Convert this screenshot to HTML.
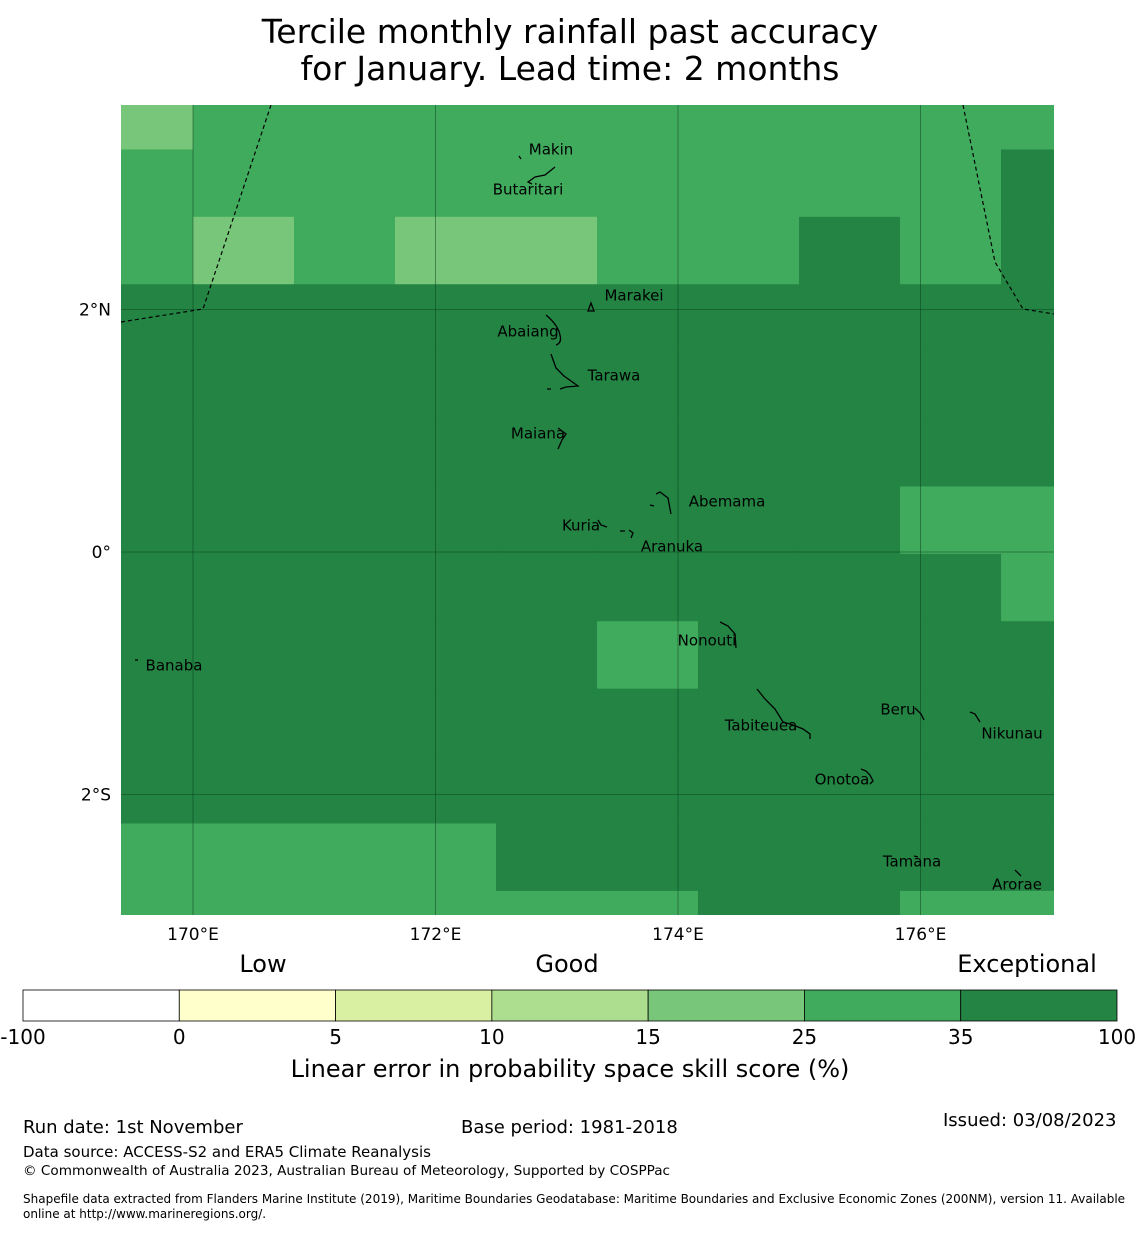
<!DOCTYPE html>
<html><head><meta charset="utf-8"><style>
body{margin:0;background:#fff;width:1140px;height:1230px;overflow:hidden;font-family:"Liberation Sans","DejaVu Sans",sans-serif}
</style></head><body>
<svg width="1140" height="1230" viewBox="0 0 1140 1230" font-family="DejaVu Sans, Liberation Sans, sans-serif">
<g font-size="33" text-anchor="middle">
<text x="570" y="43">Tercile monthly rainfall past accuracy</text>
<text x="570" y="80">for January. Lead time: 2 months</text>
</g>
<defs><clipPath id="mc"><rect x="121" y="105" width="933" height="810"/></clipPath></defs>
<g id="cells" clip-path="url(#mc)"></g>
<g id="grid" clip-path="url(#mc)"></g>
<g clip-path="url(#mc)" fill="none" stroke="#000" stroke-width="1.2" stroke-dasharray="4,3">
<polyline points="121,322 203,309 271,105"/>
<polyline points="963,105 995,262 1023,309 1054,314"/>
</g>
<g fill="none" stroke="#000" stroke-width="1.3">
<path d="M519,156 l2,3"/><path d="M555,167 l-10,8 l-10,2 l-7,5 l4,2"/>
<path d="M588,311 l3,-8 l3,8 z"/>
<path d="M546,315 q12,10 14,20 q2,8 -4,10"/>
<path d="M551,354 l5,14 l8,8 l14,10 l-12,1 l-6,2 M547,389 l4,0"/>
<path d="M558,428 l8,6 l-4,6 l-4,9"/>
<path d="M656,494 l4,-2 l8,6 l3,16 M650,505 l4,1"/>
<path d="M598,520 l3,5 l6,2"/><path d="M620,531 l5,0 M629,530 l4,3 l-2,5"/>
<path d="M135,660 l3,0"/>
<path d="M720,622 l8,4 l7,8 l1,14"/>
<path d="M757,689 l8,10 l10,10 l8,13 l10,3 l10,4 l7,5 l0,5"/>
<path d="M915,708 l6,6 l3,6"/><path d="M970,712 l5,2 l5,8"/>
<path d="M861,769 l5,2 l4,4 l3,6 l-3,3"/>
<path d="M914,856 l4,1"/><path d="M1015,870 l6,6"/>
</g>
<g font-size="15" text-anchor="middle" dominant-baseline="middle">
<text x="551" y="150">Makin</text><text x="528" y="190">Butaritari</text>
<text x="634" y="296">Marakei</text><text x="528" y="332">Abaiang</text>
<text x="614" y="376">Tarawa</text><text x="538" y="434">Maiana</text>
<text x="727" y="502">Abemama</text><text x="581" y="526">Kuria</text>
<text x="672" y="547">Aranuka</text><text x="174" y="666">Banaba</text>
<text x="707" y="641">Nonouti</text><text x="761" y="726">Tabiteuea</text>
<text x="898" y="710">Beru</text><text x="1012" y="734">Nikunau</text>
<text x="842" y="780">Onotoa</text><text x="912" y="862">Tamana</text>
<text x="1017" y="885">Arorae</text>
</g>
<g id="axes" font-size="17"></g>
<g id="cbar"></g>
<g font-size="24" text-anchor="middle">
<text x="263" y="972">Low</text><text x="567" y="972">Good</text><text x="1027" y="972">Exceptional</text>
</g>
<text x="570" y="1077" font-size="24" text-anchor="middle">Linear error in probability space skill score (%)</text>
<g>
<text x="23" y="1133" font-size="18">Run date: 1st November</text>
<text x="461" y="1133" font-size="18">Base period: 1981-2018</text>
<text x="943" y="1126" font-size="18">Issued: 03/08/2023</text>
<text x="23" y="1157" font-size="15">Data source: ACCESS-S2 and ERA5 Climate Reanalysis</text>
<text x="23" y="1175" font-size="13.6">© Commonwealth of Australia 2023, Australian Bureau of Meteorology, Supported by COSPPac</text>
<text x="23" y="1203" font-size="12">Shapefile data extracted from Flanders Marine Institute (2019), Maritime Boundaries Geodatabase: Maritime Boundaries and Exclusive Economic Zones (200NM), version 11. Available</text>
<text x="23" y="1218" font-size="12">online at http://www.marineregions.org/.</text>
</g>
</svg>
<script>
// grid of skill values (%), rows north->south, columns west->east
const skillRows = [
 [20,30,30,30,30,30,30,30,30,30,30],
 [30,30,30,30,30,30,30,30,30,40,40],
 [30,20,30,20,20,30,30,40,30,40,40],
 [40,40,40,40,40,40,40,40,40,40,40],
 [40,40,40,40,40,40,40,40,40,40,40],
 [40,40,40,40,40,40,40,40,40,40,40],
 [40,40,40,40,40,40,40,40,30,30,30],
 [40,40,40,40,40,40,40,40,40,30,30],
 [40,40,40,40,40,30,40,40,40,40,40],
 [40,40,40,40,40,40,40,40,40,40,40],
 [40,40,40,40,40,40,40,40,40,40,40],
 [30,30,30,30,40,40,40,40,40,40,40],
 [30,30,30,30,30,30,40,40,30,30,30]
];
const binEdges = [-100,0,5,10,15,25,35,100];
const binColors = ['#ffffff','#ffffcc','#d9f0a3','#addd8e','#78c679','#41ab5d','#238443'];
const lonTicks = [170,172,174,176];
const latTicks = [2,0,-2];
const latTickLabels = ['2°N','0°','2°S'];
const cellLon0 = 169.167, cellDLon = 0.833, cellLat0 = 3.876, cellDLat = 0.5559;
const ns='http://www.w3.org/2000/svg';
const xOf = lon => 193 + (lon-170)*121.25;
const yOf = lat => 552 - lat*121.25;
function colorOf(v){for(let i=0;i<binColors.length;i++){if(v<binEdges[i+1]||i==binColors.length-1)return binColors[i];}}
const cells=document.getElementById('cells');
skillRows.forEach((row,r)=>row.forEach((v,c)=>{
 const rc=document.createElementNS(ns,'rect');
 const x0=xOf(cellLon0+c*cellDLon), x1=xOf(cellLon0+(c+1)*cellDLon);
 const y0=yOf(cellLat0-r*cellDLat), y1=yOf(cellLat0-(r+1)*cellDLat);
 rc.setAttribute('x',x0);rc.setAttribute('y',y0);rc.setAttribute('width',x1-x0+0.6);rc.setAttribute('height',y1-y0+0.6);
 rc.setAttribute('fill',colorOf(v));
 
 
 cells.appendChild(rc);
}));
const grid=document.getElementById('grid'), axes=document.getElementById('axes');
lonTicks.forEach(l=>{
 const ln=document.createElementNS(ns,'line');
 ln.setAttribute('x1',xOf(l));ln.setAttribute('x2',xOf(l));ln.setAttribute('y1',105);ln.setAttribute('y2',915);
 ln.setAttribute('stroke','#0a3d1a');ln.setAttribute('stroke-opacity','0.6');ln.setAttribute('stroke-width','0.8');
 
 
 grid.appendChild(ln);
 const t=document.createElementNS(ns,'text');
 t.setAttribute('x',xOf(l));t.setAttribute('y',940);t.setAttribute('text-anchor','middle');t.textContent=l+'°E';
 
 
 axes.appendChild(t);
});
latTicks.forEach((l,i)=>{
 const ln=document.createElementNS(ns,'line');
 ln.setAttribute('y1',yOf(l));ln.setAttribute('y2',yOf(l));ln.setAttribute('x1',121);ln.setAttribute('x2',1054);
 ln.setAttribute('stroke','#0a3d1a');ln.setAttribute('stroke-opacity','0.6');ln.setAttribute('stroke-width','0.8');
 
 
 grid.appendChild(ln);
 const t=document.createElementNS(ns,'text');
 t.setAttribute('x',111);t.setAttribute('y',yOf(l)+6);t.setAttribute('text-anchor','end');t.textContent=latTickLabels[i];
 
 
 axes.appendChild(t);
});
const cb=document.getElementById('cbar'); const cbx=23, cbw=1094/binColors.length;
binColors.forEach((col,i)=>{
 const rc=document.createElementNS(ns,'rect');
 rc.setAttribute('x',cbx+i*cbw);rc.setAttribute('y',990);rc.setAttribute('width',cbw);rc.setAttribute('height',31);
 rc.setAttribute('fill',col);rc.setAttribute('stroke','#000');rc.setAttribute('stroke-width','0.8');
 
 
 cb.appendChild(rc);
});
binEdges.forEach((e,i)=>{
 const t=document.createElementNS(ns,'text');
 t.setAttribute('x',cbx+i*cbw);t.setAttribute('y',1044);t.setAttribute('text-anchor','middle');t.setAttribute('font-size','20');t.textContent=e;
 
 
 cb.appendChild(t);
});
</script>
</body></html>
